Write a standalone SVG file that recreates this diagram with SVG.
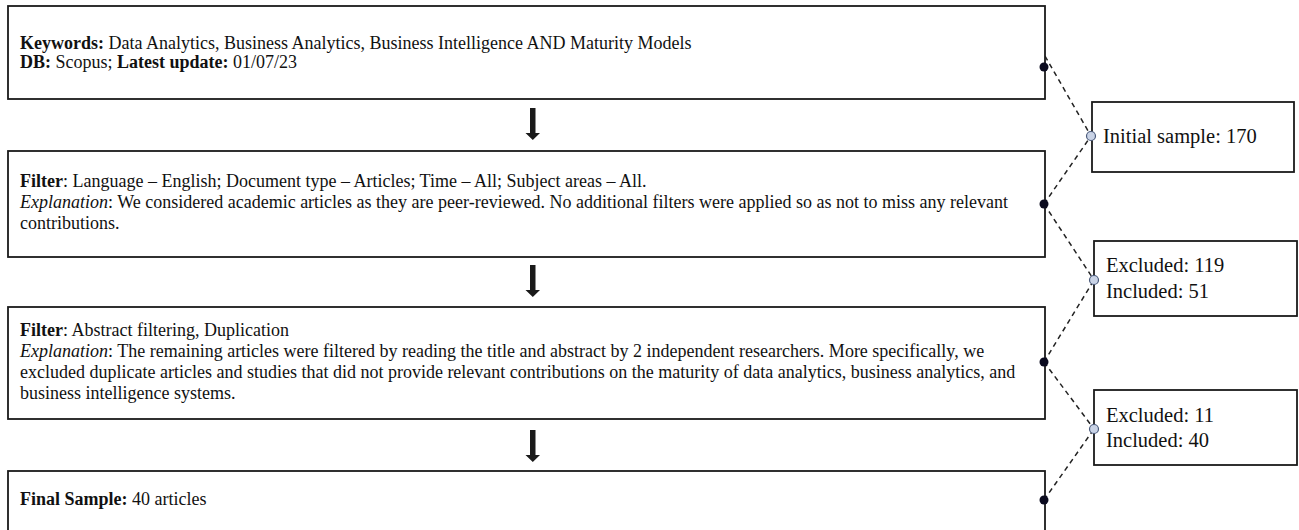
<svg xmlns="http://www.w3.org/2000/svg" width="1299" height="530" viewBox="0 0 1299 530">
<style>
.box{fill:#fff;stroke:#1a1a1a;stroke-width:1.8}
.t{font-family:"Liberation Serif","Times New Roman",serif;font-size:18px;fill:#111}
.s{font-family:"Liberation Serif","Times New Roman",serif;font-size:20.5px;fill:#111}
.b{font-weight:bold}
.i{font-style:italic}
.dash{stroke:#222;stroke-width:1.5;stroke-dasharray:5,4;fill:none}
.dot{fill:#0b0b1f}
.ring{fill:#c9d3e6;stroke:#4b5b7c;stroke-width:1.2}
.arr{fill:#1a1a1a}
</style>
<rect width="1299" height="530" fill="#fff"/>
<g id="connectors">
<line class="dash" x1="1045" y1="56" x2="1091" y2="136"/>
<line class="dash" x1="1044" y1="204" x2="1091" y2="136"/>
<line class="dash" x1="1044" y1="204" x2="1094" y2="280"/>
<line class="dash" x1="1044" y1="362" x2="1094" y2="280"/>
<line class="dash" x1="1044" y1="362" x2="1094" y2="429"/>
<line class="dash" x1="1044" y1="500" x2="1094" y2="429"/>
<path class="arr" d="M530,108 h5.5 v25 h4.5 l-7.2,7 l-7.3,-7 h4.5 z"/>
<path class="arr" d="M530,265 h5.5 v25 h4.5 l-7.2,7 l-7.3,-7 h4.5 z"/>
<path class="arr" d="M530,430 h5.5 v25 h4.5 l-7.2,7 l-7.3,-7 h4.5 z"/>
</g>
<g id="n1">
<rect class="box" x="8" y="6" width="1037" height="93"/>
<text class="t" x="20" y="49"><tspan class="b">Keywords:</tspan> Data Analytics, Business Analytics, Business Intelligence AND Maturity Models</text>
<text class="t" x="20" y="68"><tspan class="b">DB:</tspan> Scopus; <tspan class="b">Latest update:</tspan> 01/07/23</text>
<circle class="dot" cx="1044" cy="67" r="4.5"/>
</g>
<g id="n2">
<rect class="box" x="8" y="151" width="1037" height="106"/>
<text class="t" x="20" y="187"><tspan class="b">Filter</tspan>: Language – English; Document type – Articles; Time – All; Subject areas – All.</text>
<text class="t" x="20" y="208"><tspan class="i">Explanation</tspan>: We considered academic articles as they are peer-reviewed. No additional filters were applied so as not to miss any relevant</text>
<text class="t" x="20" y="229">contributions.</text>
<circle class="dot" cx="1044" cy="204" r="4.5"/>
</g>
<g id="n3">
<rect class="box" x="8" y="307" width="1037" height="112"/>
<text class="t" x="20" y="336"><tspan class="b">Filter</tspan>: Abstract filtering, Duplication</text>
<text class="t" x="20" y="357"><tspan class="i">Explanation</tspan>: The remaining articles were filtered by reading the title and abstract by 2 independent researchers. More specifically, we</text>
<text class="t" x="20" y="378">excluded duplicate articles and studies that did not provide relevant contributions on the maturity of data analytics, business analytics, and</text>
<text class="t" x="20" y="399">business intelligence systems.</text>
<circle class="dot" cx="1044" cy="362" r="4.5"/>
</g>
<g id="n4">
<rect class="box" x="8" y="471" width="1037" height="80"/>
<text class="t" x="20" y="505"><tspan class="b">Final Sample:</tspan> 40 articles</text>
<circle class="dot" cx="1044" cy="500" r="4.5"/>
</g>
<g id="r1">
<rect class="box" x="1092" y="102" width="202" height="70"/>
<text class="s" x="1103" y="143">Initial sample: 170</text>
<circle class="ring" cx="1091" cy="136" r="4.5"/>
</g>
<g id="r2">
<rect class="box" x="1094" y="241" width="203" height="75"/>
<text class="s" x="1106" y="272">Excluded: 119</text>
<text class="s" x="1106" y="298">Included: 51</text>
<circle class="ring" cx="1094" cy="280" r="4.5"/>
</g>
<g id="r3">
<rect class="box" x="1094" y="390" width="203" height="75"/>
<text class="s" x="1106" y="422">Excluded: 11</text>
<text class="s" x="1106" y="447">Included: 40</text>
<circle class="ring" cx="1094" cy="429" r="4.5"/>
</g>
</svg>
